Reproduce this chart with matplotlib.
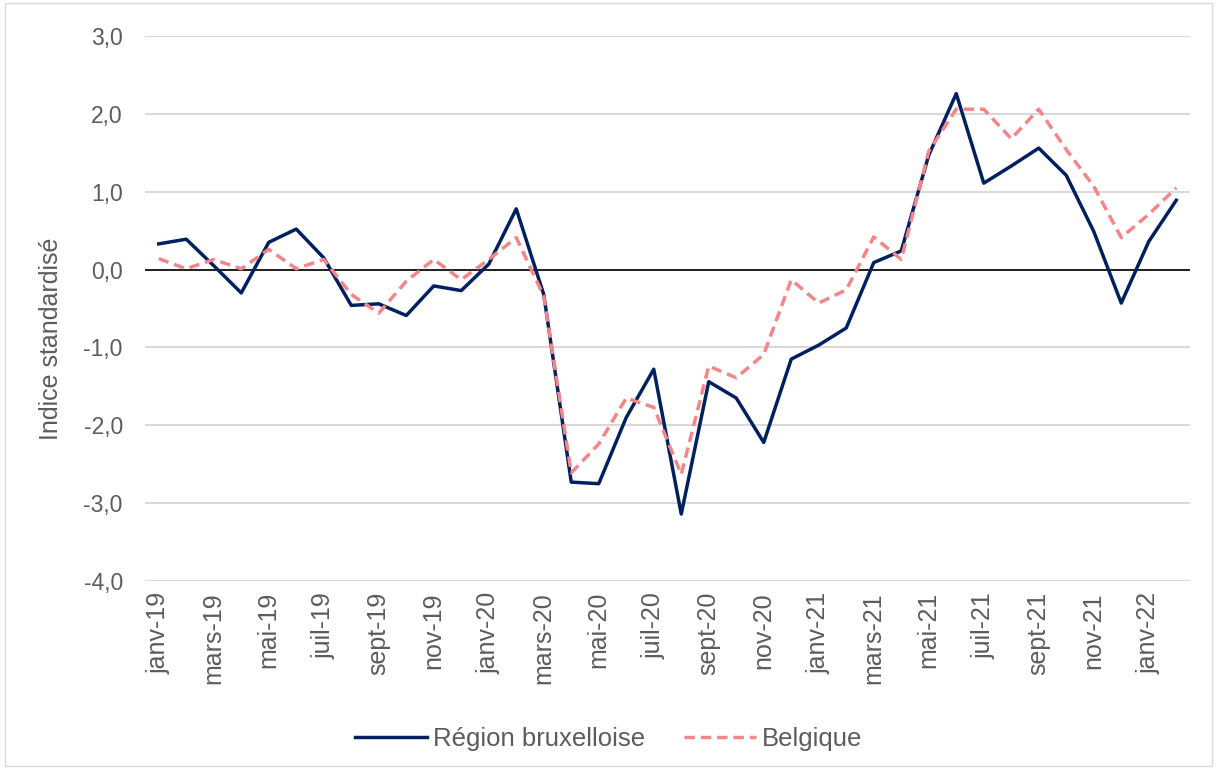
import matplotlib.pyplot as plt
import numpy as np

plt.rcParams['font.family'] = ['Liberation Sans', 'DejaVu Sans']

# monthly, janv-19 .. févr-22
months = ['janv', 'févr', 'mars', 'avr', 'mai', 'juin', 'juil', 'août', 'sept', 'oct', 'nov', 'déc']
labels = [f'{m}-{y}' for y in ('19', '20', '21', '22') for m in months][:38]

bruxelles = [0.33, 0.39, 0.05, -0.30, 0.35, 0.52, 0.15, -0.46, -0.44, -0.59, -0.21, -0.27,
             0.07, 0.78, -0.32, -2.73, -2.75, -1.90, -1.28, -3.14, -1.44, -1.65, -2.22, -1.15,
             -0.97, -0.75, 0.09, 0.24, 1.47, 2.26, 1.11, 1.33, 1.56, 1.21, 0.49, -0.43,
             0.36, 0.89]
belgique = [0.14, 0.01, 0.13, 0.01, 0.26, 0.01, 0.13, -0.32, -0.56, -0.15, 0.13, -0.13,
            0.13, 0.41, -0.34, -2.61, -2.24, -1.65, -1.77, -2.63, -1.24, -1.39, -1.09, -0.13,
            -0.43, -0.26, 0.42, 0.13, 1.52, 2.06, 2.06, 1.68, 2.06, 1.54, 1.07, 0.41,
            0.71, 1.05]

grey = '#5f5b57'
x = np.arange(len(labels))

fig = plt.figure(figsize=(12.17, 7.69), dpi=100)
ax = fig.add_axes([145 / 1217, 1 - 581 / 769, (1190 - 145) / 1217, (581 - 36) / 769])

ax.plot(x, bruxelles, color='#002060', lw=2.5, label='Région bruxelloise', zorder=3)
ax.plot(x, belgique, color='#F4868A', lw=2.5, ls=(0, (3.0, 1.7)), label='Belgique', zorder=4)
ax.axhline(0, color='black', lw=1.2, zorder=2)

yt = np.arange(-4, 3.5, 1)
ax.set_xlim(-0.5, len(labels) - 0.5)
ax.set_ylim(-4, 3)
ax.set_yticks(yt)
ax.set_yticklabels([f'{v:.1f}'.replace('.', ',') for v in yt])
ax.set_xticks(x[::2])
ax.set_xticklabels(labels[::2], rotation=90)
ax.tick_params(axis='both', length=0, colors=grey)
ax.tick_params(axis='x', pad=8, labelsize=18)
ax.tick_params(axis='y', pad=16, labelsize=16.5)
ax.grid(axis='y', color='#d9d9d9', lw=1.5, zorder=0)
for s in ax.spines.values():
    s.set_visible(False)

ax.set_ylabel('Indice standardisé', color=grey, fontsize=18)
ax.yaxis.set_label_coords(-0.078, 0.445)

leg = fig.legend(loc='center', bbox_to_anchor=(0.5, 1 - 739 / 769), ncol=2, frameon=False,
                 fontsize=18.5, handlelength=2.8, columnspacing=1.5, handletextpad=0.25)
for t in leg.get_texts():
    t.set_color(grey)

fig.patches.append(plt.Rectangle((0.004, 0.004), 0.992, 0.992, transform=fig.transFigure,
                                 fill=False, edgecolor='#d9d9d9', lw=1))

fig.savefig('out.png', dpi=100)
